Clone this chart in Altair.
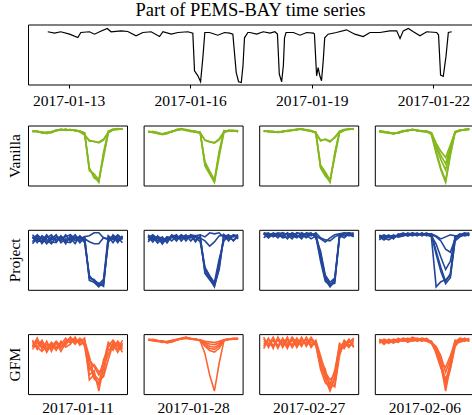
import altair as alt
import pandas as pd

FONT = "Liberation Serif"
TITLE = "Part of PEMS-BAY time series"

# ---- top series: hours after 2017-01-12 00:00, speed (mph) ----
TOP_HOURS = [11.7, 15.7, 19.4, 24.6, 29.5, 31.3, 36.4, 39.4, 42.4, 46.9, 49.2, 55.2, 59.1, 64.0, 68.0,
             72.9, 77.9, 79.9, 84.8, 88.8, 94.7, 97.6, 98.6, 100.6, 102.2, 103.6, 104.7, 107.5, 112.4,
             116.4, 119.4, 121.3, 123.3, 124.7, 126.3, 127.3, 128.2, 130.2, 131.4, 135.4, 139.3, 143.3,
             146.2, 147.7, 148.8, 150.2, 151.2, 151.9, 152.8, 157.1, 161.1, 165.0, 169.0, 169.6, 170.9,
             171.8, 172.8, 173.8, 174.8, 175.7, 177.7, 182.6, 188.6, 193.5, 198.5, 202.5, 208.4, 214.3,
             218.3, 220.3, 222.2, 225.2, 228.2, 232.1, 236.1, 242.0, 243.1, 244.3, 245.9, 247.5, 248.9,
             250.9]
TOP_SPEED = [66.5, 65.0, 66.5, 63.9, 60.3, 65.7, 66.5, 63.9, 66.5, 70.0, 66.5, 67.5, 66.8, 62.2, 65.7,
             66.5, 61.4, 66.5, 63.9, 65.7, 66.5, 65.0, 24.6, 19.2, 12.8, 40.0, 65.7, 65.7, 62.8,
             65.7, 65.0, 64.0, 22.7, 12.8, 12.0, 30.0, 60.0, 65.7, 65.7, 63.9, 66.5, 65.0,
             66.5, 64.0, 20.9, 12.8, 30.0, 60.0, 65.7, 65.7, 62.8, 65.7, 65.0, 64.0, 19.2,
             28.1, 19.2, 13.8, 35.0, 60.0, 63.9, 65.7, 68.6, 63.9, 61.4, 65.7, 65.7, 67.5,
             67.5, 59.3, 67.5, 70.0, 66.5, 62.2, 66.5, 65.7, 63.0, 20.0, 18.5, 40.0, 65.7,
             66.5]
TOP_TICKS = ["2017-01-13", "2017-01-16", "2017-01-19", "2017-01-22"]

ROW_NAMES = ["Vanilla", "Project", "GFM"]
COL_DATES = ["2017-01-11", "2017-01-28", "2017-02-27", "2017-02-06"]
COLORS = ["#84b81c", "#22469a", "#fd6433"]

# ---- small panels: each is a list of series (20 steps each) ----
V1 = [[64, 63.5, 62.5, 62, 63, 65, 65.5, 65, 65.5, 64.5, 63.5, 62, 27, 20, 13.5, 41, 63, 65, 66, 66],
      [63, 64, 62, 63, 62.5, 64.5, 66, 64.5, 65, 65, 64, 62.5, 28, 18, 15, 43, 64, 66, 65.5, 66.5],
      [64.5, 63, 63, 61.5, 63.5, 64, 65, 66, 64.5, 65, 63.5, 61.5, 25, 22, 16, 38, 62, 65.5, 66.5, 65.5],
      [64, 64, 62.5, 62.5, 62.5, 65, 65, 65.5, 65, 64.5, 63, 60, 55, 53.5, 53, 56, 63, 65, 66, 66],
      [63.5, 63.5, 63, 62, 63, 64.5, 65.5, 65, 65.5, 64, 64, 60.5, 54, 54, 52.5, 55, 62.5, 65.5, 65.5, 66]]
V2 = [[63, 62.5, 61.5, 60.5, 61.5, 63, 64.5, 65.5, 64.5, 63.5, 63, 62, 32, 23, 15, 42, 63, 64, 63.5, 63.5],
      [62.5, 63, 61, 61, 62, 62.5, 65, 66, 64, 64, 62.5, 62.5, 30, 22, 14, 39, 62, 64.5, 64, 63],
      [63.5, 62, 62, 60, 61, 63.5, 64, 65, 65, 63, 63.5, 61.5, 34, 25, 16.5, 44, 64, 63.5, 64, 64],
      [63, 62.5, 61.5, 60.5, 62, 63, 64.5, 65.5, 64.5, 64, 62.5, 61.5, 55, 53.5, 52.5, 56, 63, 64, 63.5, 63.5],
      [62.5, 63, 62, 61, 61.5, 63, 65, 65, 65, 63.5, 63, 62, 54.5, 53, 52, 55, 62.5, 63.5, 64, 63]]
V3 = [[64, 63.5, 63.5, 63, 63.5, 64, 64.5, 65.5, 66, 65, 64.5, 62.5, 28, 21, 12.5, 40, 63, 65, 66, 66],
      [63.5, 64, 63, 63.5, 63, 64.5, 65, 65, 66.5, 64.5, 64, 62, 27, 19, 13.5, 42, 64, 65.5, 65.5, 66.5],
      [64.5, 63, 63.5, 62.5, 64, 63.5, 65, 66, 65.5, 65.5, 63.5, 63, 30, 23, 15, 38, 62, 64.5, 66.5, 65.5],
      [64, 63.5, 63, 63, 63.5, 64, 65, 65.5, 65.5, 65, 64, 62.5, 54, 56, 54, 57, 63, 65, 66, 66],
      [63.5, 64, 63.5, 62.5, 63, 64.5, 64.5, 65.5, 66, 64.5, 64.5, 62, 55, 55.5, 53, 58, 63.5, 65.5, 65.5, 66]]
V4 = [[63.5, 62.5, 62, 61, 62, 63.5, 64, 65, 64, 63.5, 63.5, 60, 42, 26, 14, 40, 62, 64, 65, 65.5],
      [63, 63, 61.5, 61.5, 61.5, 63, 64.5, 64.5, 64.5, 63, 63, 61, 44, 28, 16, 42, 63, 64.5, 64.5, 65],
      [64, 62, 62.5, 60.5, 62.5, 64, 63.5, 65.5, 63.5, 64, 62.5, 61.5, 48, 36, 26, 46, 62.5, 63.5, 65, 66],
      [63.5, 63, 61.5, 61, 62, 63, 64, 65, 64, 63.5, 63, 62, 50, 40, 32, 48, 63, 64, 65, 65.5],
      [63, 62.5, 62, 61.5, 61.5, 63.5, 64.5, 64.5, 64.5, 63.5, 63.5, 62, 52, 44, 38, 50, 62.5, 64.5, 64.5, 65]]

P1 = [[63, 57, 64, 60, 56, 63, 59, 65, 58, 63, 57, 62, 22, 19, 14, 15, 59, 63, 57, 64],
      [58, 64, 56, 62, 65, 58, 63, 56, 64, 59, 63, 57, 24, 18, 16, 13, 63, 57, 64, 60],
      [65, 60, 62, 56, 61, 65, 57, 61, 60, 65, 59, 63, 19, 17, 12.5, 18, 57, 65, 60, 62],
      [56, 62, 59, 65, 58, 57, 64, 59, 62, 56, 64, 59, 21, 20, 15, 20, 64, 60, 62, 57],
      [61, 65, 61, 58, 63, 60, 61, 63, 65, 61, 61, 63, 64, 67, 67, 62, 60, 61, 65, 61],
      [63, 59, 58, 63, 60, 62, 63, 58, 57, 62, 63, 61, 58, 56, 56, 62, 61, 63, 59, 63]]
P2 = [[62, 57, 63, 56, 60, 62, 64, 58, 63, 61, 62, 57, 31, 23, 15, 36, 62, 64, 58, 63],
      [57, 63, 58, 62, 56, 63, 60, 64, 58, 64, 57, 63, 28, 21, 13, 32, 64, 58, 64, 60],
      [63, 59, 62, 55, 62, 58, 63, 61, 64, 58, 63, 60, 32, 24, 17, 40, 58, 63, 62, 64],
      [59, 62, 56, 60, 58, 64, 61, 63, 60, 63, 59, 62, 26, 20, 14, 30, 63, 61, 59, 62],
      [61, 64, 60, 58, 62, 61, 63, 60, 63, 62, 62, 61, 58, 53, 57, 63, 64, 62, 63, 61],
      [64, 60, 62, 61, 59, 63, 58, 64, 61, 64, 63, 64, 62, 66, 65, 66, 61, 60, 64, 63]]
P3 = [[66, 62, 65, 61, 66, 64, 60, 66, 64, 61, 65, 63, 42, 20, 12.5, 18, 62, 65, 66, 64],
      [64, 66, 63, 65, 61, 62, 66, 64, 60, 66, 64, 65, 45, 22, 15, 16, 63, 61, 65, 66],
      [65, 63, 66, 64, 62, 66, 63, 61, 66, 64, 60, 63, 38, 18, 14, 20, 61, 66, 64, 62],
      [61, 65, 64, 66, 65, 60, 65, 62, 64, 65, 66, 61, 48, 24, 17, 21, 64, 63, 65, 63],
      [66, 65, 62, 64, 66, 64, 62, 66, 65, 62, 65, 63, 60, 57, 61, 64, 65, 66, 63, 65],
      [65, 61, 65, 63, 63, 65, 65, 63, 62, 65, 63, 66, 61, 59, 58, 62, 64, 65, 66, 64]]
P4 = [[62, 59, 63, 61, 64, 65, 63, 66, 64, 65, 64, 62, 13, 18, 20, 24, 58, 62, 64, 65],
      [59, 63, 61, 64, 62, 63, 66, 64, 66, 63, 65, 64, 45, 28, 16, 22, 60, 64, 65, 63],
      [63, 61, 59, 62, 63, 66, 64, 65, 63, 66, 63, 65, 48, 32, 18, 26, 62, 63, 64, 66],
      [61, 62, 64, 60, 65, 64, 65, 63, 65, 64, 66, 63, 55, 42, 30, 38, 62, 65, 63, 64],
      [62, 64, 62, 63, 62, 63, 64, 66, 64, 65, 64, 64, 62, 58, 50, 47, 60, 64, 66, 65],
      [64, 61, 63, 62, 63, 65, 63, 64, 65, 64, 65, 65, 63, 60, 62, 64, 63, 63, 65, 64]]

G1 = [[58, 66, 55, 63, 53, 62, 56, 64, 65, 60, 66, 58, 30, 34, 14, 38, 50, 62, 55, 64],
      [64, 55, 62, 52, 60, 54, 63, 57, 60, 67, 59, 63, 40, 26, 22, 30, 60, 54, 63, 57],
      [55, 62, 57, 60, 56, 61, 53, 61, 67, 62, 64, 60, 45, 38, 30, 42, 62, 58, 60, 52],
      [61, 58, 64, 55, 62, 57, 60, 66, 61, 65, 62, 66, 25, 30, 25, 28, 45, 60, 52, 61],
      [57, 64, 59, 54, 58, 63, 58, 62, 63, 66, 60, 62, 35, 40, 33, 35, 58, 64, 58, 59],
      [63, 57, 53, 58, 61, 55, 62, 59, 66, 63, 65, 64, 48, 28, 20, 45, 55, 56, 62, 55]]
G2 = [[62, 61.5, 61, 60, 59.5, 60.5, 62, 63, 64, 63, 62.5, 61, 49, 29, 14, 40, 61, 62.5, 63, 63],
      [62.5, 62, 60.5, 60.5, 60, 61, 62.5, 63.5, 64.5, 62.5, 62, 61.5, 57, 54, 53, 56, 61.5, 63, 63, 63.5],
      [61.5, 62, 61.5, 59.5, 60, 61, 61.5, 63, 63.5, 63, 63, 61, 58.5, 56, 55, 57.5, 62, 62.5, 63.5, 63],
      [62, 61, 60.5, 60.5, 59, 60, 62, 62.5, 64, 63.5, 62, 61.5, 59.5, 58, 57.5, 59, 61.5, 63, 63, 62.5],
      [62.5, 61.5, 61, 60, 60.5, 61.5, 62, 63, 63.5, 62.5, 63, 61, 56, 52, 50.5, 54, 61, 62, 62.5, 63],
      [61.5, 62.5, 61, 61, 59.5, 60, 61.5, 63.5, 64, 63, 62.5, 62, 60.5, 60, 59.5, 60.5, 62, 62.5, 63, 63]]
G3 = [[66, 56, 64, 55, 65, 57, 63, 58, 66, 57, 64, 60, 40, 26, 14, 26, 50, 60, 56, 64],
      [57, 65, 55, 66, 56, 64, 57, 65, 58, 65, 56, 62, 45, 30, 20, 34, 58, 55, 63, 57],
      [62, 58, 66, 57, 63, 55, 65, 56, 64, 59, 66, 59, 35, 22, 18, 20, 52, 63, 58, 62],
      [55, 64, 58, 63, 58, 66, 56, 63, 57, 66, 58, 63, 48, 32, 25, 30, 55, 58, 64, 56],
      [64, 60, 57, 65, 60, 59, 66, 60, 62, 63, 61, 58, 38, 28, 22, 18, 48, 62, 57, 60],
      [59, 63, 62, 58, 64, 61, 59, 64, 60, 61, 63, 61, 44, 35, 16, 28, 60, 57, 61, 65]]
G4 = [[63, 60, 64, 62, 61, 64, 63, 65, 62, 64, 63, 60, 52, 40, 14, 38, 60, 63, 64, 62],
      [60, 63, 61, 64, 63, 62, 65, 63, 64, 62, 65, 61, 55, 45, 22, 42, 62, 64, 62, 64],
      [62, 61, 63, 60, 64, 63, 62, 64, 65, 63, 62, 62, 50, 36, 26, 36, 58, 62, 65, 63],
      [64, 62, 60, 63, 62, 65, 64, 62, 63, 65, 64, 61, 57, 48, 32, 45, 63, 61, 63, 65],
      [61, 64, 62, 61, 65, 62, 63, 66, 64, 63, 63, 62, 54, 42, 37, 48, 61, 65, 64, 62],
      [63, 59, 63, 62, 62, 64, 61, 63, 63, 64, 62, 60, 53, 38, 19, 35, 57, 63, 63, 64]]

PANELS = [[V1, V2, V3, V4], [P1, P2, P3, P4], [G1, G2, G3, G4]]

TITLE_PAD_Y = 5.5
LABEL_SIZE = 15.5


def date_obj(s):
    y, m, d = (int(p) for p in s.split("-"))
    return alt.DateTime(year=y, month=m, date=d)


top_df = pd.DataFrame({
    "time": pd.Timestamp("2017-01-12") + pd.to_timedelta(TOP_HOURS, unit="h"),
    "speed": TOP_SPEED,
})

top = alt.Chart(top_df, title=alt.TitleParams(
    text=TITLE, font=FONT, fontSize=18.5, fontWeight="normal", color="black",
    anchor="middle", baseline="alphabetic", offset=-10)
).mark_line(color="black", strokeWidth=1.2).encode(
    x=alt.X("time:T",
            scale=alt.Scale(domain=[alt.DateTime(year=2017, month=1, date=12, hours=0),
                                    alt.DateTime(year=2017, month=1, date=22, hours=23, minutes=30)]),
            axis=alt.Axis(values=[date_obj(t) for t in TOP_TICKS], format="%Y-%m-%d", title=None,
                          grid=False, domain=False, tickSize=3.5, tickColor="black", tickWidth=1,
                          labelPadding=5, labelFont=FONT, labelFontSize=LABEL_SIZE, labelColor="black",
                          labelFlush=False, labelOverlap=False)),
    y=alt.Y("speed:Q", scale=alt.Scale(domain=[9.85, 74.3], nice=False, zero=False),
            axis=alt.Axis(title=" ", labels=False, ticks=False, domain=False, grid=False,
                          titleFont=FONT, titleFontSize=LABEL_SIZE, titleFontWeight="normal",
                          titlePadding=TITLE_PAD_Y, minExtent=0)),
).properties(width=445, height=60)


def panel(series, color, ytitle, xtitle):
    rows = []
    for s, vals in enumerate(series):
        for i, v in enumerate(vals):
            rows.append({"step": i, "value": v, "series": s})
    df = pd.DataFrame(rows)
    if xtitle:
        xaxis = alt.Axis(title=xtitle, labels=False, ticks=False, domain=False, grid=False,
                         titleFont=FONT, titleFontSize=LABEL_SIZE, titleFontWeight="normal",
                         titleColor="black", titlePadding=6, minExtent=0)
    else:
        xaxis = None
    if ytitle:
        yaxis = alt.Axis(title=ytitle, labels=False, ticks=False, domain=False, grid=False,
                         titleFont=FONT, titleFontSize=LABEL_SIZE, titleFontWeight="normal",
                         titleColor="black", titlePadding=TITLE_PAD_Y, minExtent=0)
    else:
        yaxis = None
    return alt.Chart(df).mark_line(color=color, strokeWidth=1.6).encode(
        x=alt.X("step:Q", scale=alt.Scale(domain=[-0.95, 19.95], nice=False, zero=False), axis=xaxis),
        y=alt.Y("value:Q", scale=alt.Scale(zero=False, nice=False, padding=3), axis=yaxis),
        detail="series:N",
    ).properties(width=99, height=60)


rows = []
for r, (name, color) in enumerate(zip(ROW_NAMES, COLORS)):
    charts = []
    for c, date in enumerate(COL_DATES):
        charts.append(panel(PANELS[r][c], color,
                            name if c == 0 else None,
                            date if r == len(ROW_NAMES) - 1 else None))
    rows.append(alt.hconcat(*charts, spacing=14.6).resolve_scale(x="independent", y="independent"))

grid = alt.vconcat(*rows, spacing=42.3).resolve_scale(x="independent", y="independent")

chart = alt.vconcat(top, grid, spacing=15).resolve_scale(
    x="independent", y="independent"
).properties(
    padding={"left": 7, "top": 0.5, "right": -3, "bottom": 0},
    background="white",
).configure_view(stroke="black", strokeWidth=1)

chart.save("out.html", embed_options={"renderer": "svg", "actions": False})
